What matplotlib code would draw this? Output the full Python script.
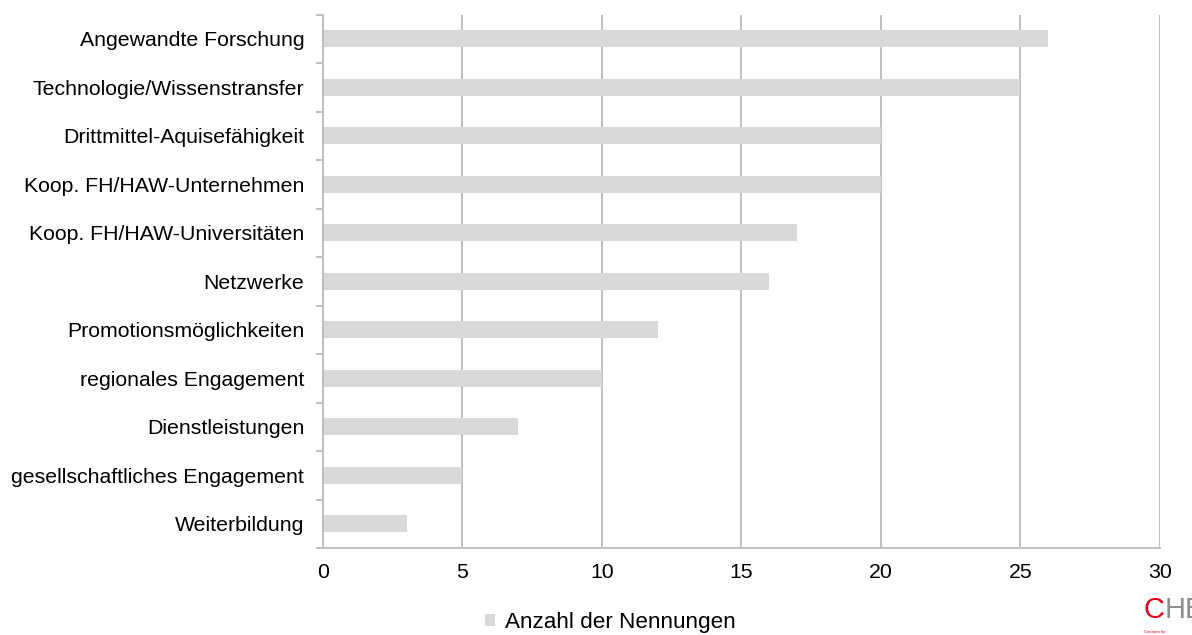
import numpy as np
import matplotlib.pyplot as plt
from matplotlib.transforms import offset_copy

plt.rcParams['font.family'] = ['Liberation Sans', 'DejaVu Sans']

categories = ['Angewandte Forschung', 'Technologie/Wissenstransfer',
              'Drittmittel-Aquisefähigkeit', 'Koop. FH/HAW-Unternehmen',
              'Koop. FH/HAW-Universitäten', 'Netzwerke',
              'Promotionsmöglichkeiten', 'regionales Engagement',
              'Dienstleistungen', 'gesellschaftliches Engagement',
              'Weiterbildung']
counts = [26, 25, 20, 20, 17, 16, 12, 10, 7, 5, 3]
series_name = 'Anzahl der Nennungen'

FS = 15.3

fig = plt.figure(figsize=(11.92, 6.35), dpi=100)
ax = fig.add_axes([0.271, 0.137, 0.702, 0.840])

y = np.arange(len(categories))
ax.barh(y, counts, height=0.35, color='#d9d9d9', label=series_name, zorder=2)

ax.set_xlim(0, 30)
ax.set_ylim(len(categories) - 0.5, -0.5)
ax.set_xticks(range(0, 31, 5))
ax.xaxis.grid(True, color='#bfbfbf', linewidth=1.4, zorder=0)
ax.set_axisbelow(True)

# category labels centred on bars, ticks between categories
ax.set_yticks(y)
ax.set_yticklabels(categories, fontsize=FS)
ax.tick_params(axis='y', length=0, pad=13.5)
ax.set_yticks(np.arange(-0.5, len(categories)), minor=True)
ax.tick_params(axis='y', which='minor', length=5, color='#bfbfbf', width=1.4)
ax.tick_params(axis='x', length=0, labelsize=FS, pad=11)

for s in ['top', 'right']:
    ax.spines[s].set_visible(False)
for s in ['left', 'bottom']:
    ax.spines[s].set_color('#bfbfbf')
    ax.spines[s].set_linewidth(1.4)

ax.legend(loc='center', bbox_to_anchor=(0.343, -0.139), frameon=False,
          fontsize=16.2, handlelength=0.45, handleheight=0.45, handletextpad=0.45)

# logo in the corner: red C, grey HE right behind it
c = fig.text(0.959, 0.018, 'C', color='#e2001a', fontsize=21,
             ha='left', va='bottom')
fig.canvas.draw()
c_box = c.get_window_extent()
fig.text(c_box.x1 / fig.bbox.width, 0.018, 'HE', color='#8c8c8c', fontsize=21,
         ha='left', va='bottom')
fig.text(0.960, 0.001, 'Centrum für', color='#e2001a', fontsize=3,
         ha='left', va='bottom')

fig.savefig('out.png', dpi=100)
